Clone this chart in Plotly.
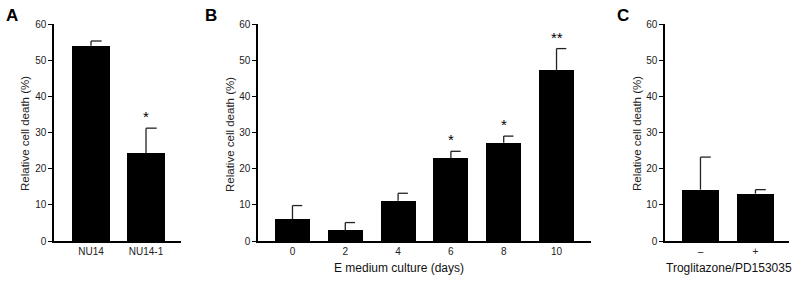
import plotly.graph_objects as go

# ---- data ----
a_labels = ["NU14", "NU14-1"]
a_values = [54.0, 24.2]
a_errors = [1.3, 7.0]
a_stars = ["", "*"]

b_labels = ["0", "2", "4", "6", "8", "10"]
b_values = [6.0, 3.0, 11.1, 22.9, 27.2, 47.3]
b_errors = [3.8, 2.1, 2.1, 1.9, 1.8, 5.9]
b_stars = ["", "", "", "*", "*", "**"]

c_labels = ["–", "+"]
c_values = [14.2, 13.1]
c_errors = [9.0, 1.1]
c_stars = ["", ""]

W, H = 800, 281
FONT = "Liberation Sans, Arial, sans-serif"

panels = [
    dict(letter="A", labels=a_labels, values=a_values, errors=a_errors, stars=a_stars,
         px=(54, 181), xr=(-0.673, 1.636), bw=0.69, xtitle="", xtitle_x=0, ytitle_x=25, letter_x=12),
    dict(letter="B", labels=b_labels, values=b_values, errors=b_errors, stars=b_stars,
         px=(258, 591), xr=(-0.653, 5.653), bw=0.66, xtitle="E medium culture (days)", xtitle_x=399,
         ytitle_x=230, letter_x=211),
    dict(letter="C", labels=c_labels, values=c_values, errors=c_errors, stars=c_stars,
         px=(665, 789), xr=(-0.645, 1.61), bw=0.67, xtitle="Troglitazone/PD153035", xtitle_x=729,
         ytitle_x=637, letter_x=623),
]

y0_px, y60_px = 241, 24
ydom = [(H - y0_px) / H, (H - y60_px) / H]

fig = go.Figure()
annotations = []
for i, p in enumerate(panels):
    n = i + 1
    xa = "x" if n == 1 else f"x{n}"
    ya = "y" if n == 1 else f"y{n}"
    xs = list(range(len(p["labels"])))
    fig.add_trace(go.Bar(x=xs, y=p["values"], width=p["bw"], marker=dict(color="black", line=dict(width=0)),
                         xaxis=xa, yaxis=ya, showlegend=False))
    # one-sided error bars with right-half caps (Prism style)
    ex, ey = [], []
    cap = p["bw"] * 0.28
    for x, v, e in zip(xs, p["values"], p["errors"]):
        ex += [x, x, None, x, x + cap, None]
        ey += [v, v + e, None, v + e, v + e, None]
    fig.add_trace(go.Scatter(x=ex, y=ey, mode="lines", line=dict(color="#222", width=1.3),
                             xaxis=xa, yaxis=ya, showlegend=False, hoverinfo="skip"))
    # stars
    for x, v, e, s in zip(xs, p["values"], p["errors"], p["stars"]):
        if s:
            annotations.append(dict(x=x, y=v + e + 0.3, xref=xa, yref=ya, text=s, showarrow=False,
                                    xanchor="center", yanchor="bottom",
                                    font=dict(size=15, color="black", family=FONT)))
    dom = [p["px"][0] / W, p["px"][1] / W]
    lay_x = "xaxis" if n == 1 else f"xaxis{n}"
    lay_y = "yaxis" if n == 1 else f"yaxis{n}"
    fig.update_layout({
        lay_x: dict(domain=dom, range=list(p["xr"]), anchor=ya, tickmode="array", tickvals=xs,
                    ticktext=p["labels"], showline=True, linecolor="black", linewidth=1.5,
                    ticks="", showgrid=False, zeroline=False,
                    automargin=False, tickfont=dict(size=10, color="#222", family=FONT)),
        lay_y: dict(domain=ydom, range=[0, 60], anchor=xa, tickvals=[0, 10, 20, 30, 40, 50, 60],
                    showline=True, linecolor="black", linewidth=1.5, ticks="outside", ticklen=4,
                    tickwidth=1.3, tickcolor="black", showgrid=False, zeroline=False, automargin=False,
                    tickfont=dict(size=10, color="#222", family=FONT)),
    })
    # y title
    annotations.append(dict(x=p["ytitle_x"] / W, y=(H - 134) / H, xref="paper", yref="paper",
                            xanchor="center", yanchor="middle",
                            text="Relative cell death (%)", textangle=-90, showarrow=False,
                            font=dict(size=11.5, color="#222", family=FONT)))
    if p["xtitle"]:
        annotations.append(dict(x=p["xtitle_x"] / W, y=(H - 268) / H,
                                xref="paper", yref="paper", text=p["xtitle"], showarrow=False,
                                xanchor="center", yanchor="middle",
                                font=dict(size=12, color="#111", family=FONT)))
    annotations.append(dict(x=p["letter_x"] / W, y=(H - 15) / H, xref="paper", yref="paper",
                            xanchor="center", yanchor="middle",
                            text=f"<b>{p['letter']}</b>", showarrow=False,
                            font=dict(size=17, color="black", family=FONT)))

fig.update_layout(width=W, height=H, margin=dict(l=0, r=0, t=0, b=0), paper_bgcolor="white",
                  plot_bgcolor="white", annotations=annotations, bargap=0)
fig.write_html("out.html", config={"displayModeBar": False},
               post_script="document.body.style.margin='0';document.body.style.padding='0';")
